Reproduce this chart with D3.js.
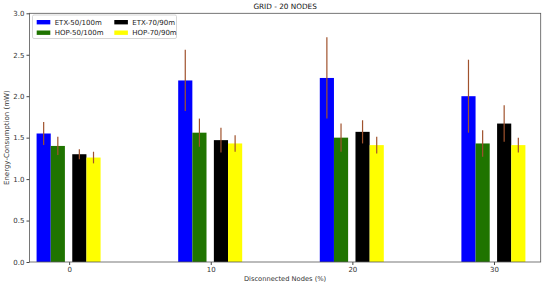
<!DOCTYPE html>
<html lang="en">
<head>
    <meta charset="UTF-8">
    <title>GRID - 20 NODES</title>
    <script src="https://d3js.org/d3.v7.min.js"></script>
    <style>
        body { margin: 0; background: #fff; }
        text { font-family: "DejaVu Sans", sans-serif; }
    </style>
</head>
<body>
<div id="chart"></div>
<script>
    // data
    const groups = [0, 10, 20, 30]
    const seriesNames = ["ETX-50/100m", "HOP-50/100m", "ETX-70/90m", "HOP-70/90m"]
    const seriesColors = ["#0000ff", "#1f7400", "#000000", "#ffff00"]
    const etx50 = [1.55, 2.19, 2.22, 2.00]
    const hop50 = [1.40, 1.56, 1.50, 1.43]
    const etx70 = [1.30, 1.47, 1.57, 1.67]
    const hop70 = [1.26, 1.43, 1.41, 1.41]
    const etx50Err = [0.14, 0.37, 0.49, 0.44]
    const hop50Err = [0.11, 0.17, 0.17, 0.16]
    const etx70Err = [0.06, 0.15, 0.14, 0.22]
    const hop70Err = [0.07, 0.10, 0.10, 0.09]
    const yTicks = [0, 0.5, 1.0, 1.5, 2.0, 2.5, 3.0]

    const values = [etx50, hop50, etx70, hop70]
    const errors = [etx50Err, hop50Err, etx70Err, hop70Err]
    // left edge of each bar relative to the group tick, in x units
    const offsets = [-2.3, -1.3, 0.22, 1.22]
    const BAR_W = 1.0

    const W = 550, H = 285
    const MARGIN = { LEFT: 29.5, RIGHT: 9.3, TOP: 13.3, BOTTOM: 23 }

    const svg = d3.select("#chart").append("svg")
        .attr("width", W).attr("height", H)

    const x = d3.scaleLinear().domain([-2.8, 33.3]).range([MARGIN.LEFT, W - MARGIN.RIGHT])
    const y = d3.scaleLinear().domain([0, 3]).range([H - MARGIN.BOTTOM, MARGIN.TOP])

    // bars
    values.forEach((vals, s) => {
        svg.append("g").selectAll("rect").data(vals).enter().append("rect")
            .attr("x", (d, i) => x(groups[i] + offsets[s]))
            .attr("width", x(BAR_W) - x(0))
            .attr("y", d => y(d))
            .attr("height", d => y(0) - y(d))
            .attr("fill", seriesColors[s])
    })

    // error bars
    values.forEach((vals, s) => {
        svg.append("g").selectAll("line").data(vals).enter().append("line")
            .attr("x1", (d, i) => x(groups[i] + offsets[s] + BAR_W / 2))
            .attr("x2", (d, i) => x(groups[i] + offsets[s] + BAR_W / 2))
            .attr("y1", (d, i) => y(d - errors[s][i]))
            .attr("y2", (d, i) => y(d + errors[s][i]))
            .attr("stroke", "#a0522d")
            .attr("stroke-width", 1.2)
    })

    // axes
    const xAxis = svg.append("g")
        .attr("transform", `translate(0, ${y(0)})`)
        .call(d3.axisBottom(x).tickValues(groups).tickSize(3).tickPadding(2))
    const yAxis = svg.append("g")
        .attr("transform", `translate(${MARGIN.LEFT}, 0)`)
        .call(d3.axisLeft(y).tickValues(yTicks).tickFormat(d3.format(".1f")).tickSize(3).tickPadding(2))
    ;[xAxis, yAxis].forEach(a => {
        a.select(".domain").remove()
        a.selectAll("line").attr("stroke", "#444")
        a.selectAll("text").attr("fill", "#333").attr("font-size", "7px")
    })

    // frame
    svg.append("rect")
        .attr("x", MARGIN.LEFT).attr("y", MARGIN.TOP)
        .attr("width", W - MARGIN.RIGHT - MARGIN.LEFT)
        .attr("height", y(0) - MARGIN.TOP)
        .attr("fill", "none").attr("stroke", "#555").attr("stroke-width", 0.8)

    // title and labels
    svg.append("text")
        .attr("x", (MARGIN.LEFT + W - MARGIN.RIGHT) / 2).attr("y", 8.8)
        .attr("text-anchor", "middle").attr("font-size", "7.3px").attr("fill", "#111")
        .text("GRID - 20 NODES")
    svg.append("text")
        .attr("x", (MARGIN.LEFT + W - MARGIN.RIGHT) / 2).attr("y", 281)
        .attr("text-anchor", "middle").attr("font-size", "6.7px").attr("fill", "#333")
        .text("Disconnected Nodes (%)")
    svg.append("text")
        .attr("transform", `translate(8.5, ${(MARGIN.TOP + y(0)) / 2}) rotate(-90)`)
        .attr("text-anchor", "middle").attr("font-size", "7px").attr("fill", "#333")
        .text("Energy-Consumption (mW)")

    // legend
    const legend = svg.append("g")
    legend.append("rect")
        .attr("x", 32.5).attr("y", 15).attr("width", 144).attr("height", 23.5)
        .attr("fill", "#fff").attr("stroke", "#ccc").attr("stroke-width", 0.8).attr("rx", 1.5)
    const legendPos = [[36.7, 20], [36.7, 30.5], [114.3, 20], [114.3, 30.5]]
    seriesNames.forEach((name, s) => {
        legend.append("rect")
            .attr("x", legendPos[s][0]).attr("y", legendPos[s][1])
            .attr("width", 13.6).attr("height", 4.4)
            .attr("fill", seriesColors[s])
        legend.append("text")
            .attr("x", legendPos[s][0] + 18).attr("y", legendPos[s][1] + 4.8)
            .attr("font-size", "7px").attr("fill", "#222")
            .text(name)
    })
</script>
</body>
</html>
